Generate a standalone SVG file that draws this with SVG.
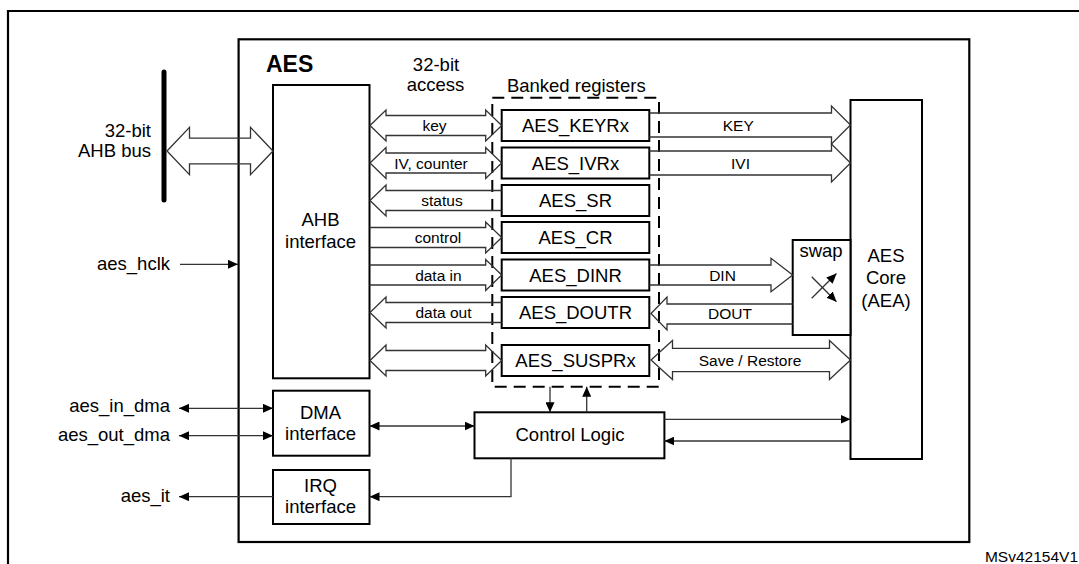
<svg xmlns="http://www.w3.org/2000/svg" width="1079" height="564" viewBox="0 0 1079 564">
<style>
text{font-family:"Liberation Sans",Arial,sans-serif;fill:#000}
.t{font-size:18.5px}
.s{font-size:15.5px}
.m{text-anchor:middle}
.e{text-anchor:end}
.box{fill:#fff;stroke:#000;stroke-width:2}
.frame{fill:none;stroke:#000;stroke-width:2.2}
.ha{fill:none;stroke:#333;stroke-width:1.3;stroke-linejoin:miter}
.ln{fill:none;stroke:#333;stroke-width:1.3}
</style>
<defs>
<marker id="ah" markerUnits="userSpaceOnUse" markerWidth="11" markerHeight="9" refX="10" refY="4.5" orient="auto-start-reverse">
<path d="M0,0 L10,4.5 L0,9 z" fill="#000"/>
</marker>
</defs>

<path class="frame" d="M8,580 V11 H1090"/>
<rect id="aes-block" class="frame" x="238.6" y="39.3" width="730.7" height="502.7" stroke-width="2.5"/>
<text x="266" y="71.7" style="font-size:23px;font-weight:bold">AES</text>

<g id="ahb-bus">
<line x1="164" y1="72" x2="164" y2="200" stroke="#000" stroke-width="5" stroke-linecap="round"/>
<text class="t e" x="151" y="136.7">32-bit</text>
<text class="t e" x="151" y="157.3">AHB bus</text>
</g>

<text class="t m" x="436" y="70.5">32-bit</text>
<text class="t m" x="435.5" y="91">access</text>

<g id="banked">
<rect x="492.3" y="97.7" width="166.7" height="289" fill="none" stroke="#000" stroke-width="2" stroke-dasharray="12,7"/>
<text class="t m" x="576.3" y="91.7">Banked registers</text>
</g>

<g id="ahb-interface">
<rect class="box" x="273" y="85" width="96.5" height="293.3"/>
<text class="t m" x="320.5" y="226">AHB</text>
<text class="t m" x="320.5" y="248.3">interface</text>
</g>

<g id="dma-interface">
<rect class="box" x="273" y="390.7" width="96.5" height="65"/>
<text class="t m" x="320.5" y="419">DMA</text>
<text class="t m" x="320.5" y="440">interface</text>
</g>

<g id="irq-interface">
<rect class="box" x="273" y="470" width="96.5" height="54"/>
<text class="t m" x="320.5" y="491.7">IRQ</text>
<text class="t m" x="320.5" y="512.7">interface</text>
</g>

<g id="reg-keyr"><rect class="box" x="501.7" y="110" width="147.6" height="31"/><text class="t m" x="575.5" y="132">AES_KEYRx</text></g>
<g id="reg-ivr"><rect class="box" x="501.7" y="147.5" width="147.6" height="31"/><text class="t m" x="575.5" y="169.5">AES_IVRx</text></g>
<g id="reg-sr"><rect class="box" x="501.7" y="185" width="147.6" height="31"/><text class="t m" x="575.5" y="207">AES_SR</text></g>
<g id="reg-cr"><rect class="box" x="501.7" y="222" width="147.6" height="31"/><text class="t m" x="575.5" y="244">AES_CR</text></g>
<g id="reg-dinr"><rect class="box" x="501.7" y="259.5" width="147.6" height="31"/><text class="t m" x="575.5" y="281.5">AES_DINR</text></g>
<g id="reg-doutr"><rect class="box" x="501.7" y="297" width="147.6" height="31"/><text class="t m" x="575.5" y="319">AES_DOUTR</text></g>
<g id="reg-suspr"><rect class="box" x="501.7" y="345" width="147.6" height="31"/><text class="t m" x="575.5" y="367">AES_SUSPRx</text></g>

<g id="control-logic">
<rect class="box" x="474.5" y="412.3" width="189.9" height="46"/>
<text class="t m" x="570" y="441">Control Logic</text>
</g>

<g id="aes-core">
<rect class="box" x="850.5" y="100" width="71.5" height="359"/>
<text class="t m" x="886" y="261.7">AES</text>
<text class="t m" x="886" y="284">Core</text>
<text class="t m" x="886" y="306.5">(AEA)</text>
</g>

<g id="swap">
<rect class="box" x="792.7" y="240" width="57.8" height="95"/>
<text class="t m" x="821" y="256.5">swap</text>
<line class="ln" x1="811.7" y1="298.3" x2="836.5" y2="273.5" marker-end="url(#ah)"/>
<line class="ln" x1="811.7" y1="276.7" x2="836.5" y2="301.7" marker-end="url(#ah)"/>
</g>

<g id="connectors">
<path class="ha" d="M167,151 L189.5,127.3 L189.5,138.2 L250.5,138.2 L250.5,127.3 L273,151 L250.5,174.7 L250.5,163.8 L189.5,163.8 L189.5,174.7 Z"/>
<path class="ha" d="M370,125.5 L386,110 L386,115.5 L485.7,115.5 L485.7,110 L501.7,125.5 L485.7,141 L485.7,135.5 L386,135.5 L386,141 Z"/>
<path class="ha" d="M370,163 L386,147.5 L386,153 L485.7,153 L485.7,147.5 L501.7,163 L485.7,178.5 L485.7,173 L386,173 L386,178.5 Z"/>
<path class="ha" d="M501.7,190.5 L386,190.5 L386,185 L370,200.5 L386,216 L386,210.5 L501.7,210.5"/>
<path class="ha" d="M369.5,227.5 L485.7,227.5 L485.7,222 L501.7,237.5 L485.7,253 L485.7,247.5 L369.5,247.5"/>
<path class="ha" d="M369.5,265 L485.7,265 L485.7,259.5 L501.7,275 L485.7,290.5 L485.7,285 L369.5,285"/>
<path class="ha" d="M501.7,302.5 L386,302.5 L386,297 L370,312.5 L386,328 L386,322.5 L501.7,322.5"/>
<path class="ha" d="M370,360.5 L386,345 L386,350.5 L485.7,350.5 L485.7,345 L501.7,360.5 L485.7,376 L485.7,370.5 L386,370.5 L386,376 Z"/>
<path class="ha" d="M649.3,113 L831.5,113 L831.5,106 L850.5,125 L831.5,144 L831.5,137 L649.3,137"/>
<path class="ha" d="M649.3,151 L831.5,151 L831.5,144 L850.5,163 L831.5,182 L831.5,175 L649.3,175"/>
<path class="ha" d="M649.3,265 L771,265 L771,258.3 L792.7,275 L771,291.7 L771,285 L649.3,285"/>
<path class="ha" d="M792.7,304 L667,304 L667,297 L651,313.5 L667,330 L667,324 L792.7,324"/>
<path class="ha" d="M651,360 L672.5,340.5 L672.5,348.3 L829.5,348.3 L829.5,340.5 L850.5,360 L829.5,379.5 L829.5,371.7 L672.5,371.7 L672.5,379.5 Z"/>
<line class="ln" x1="180" y1="264.3" x2="238" y2="264.3" marker-end="url(#ah)"/>
<line class="ln" x1="179" y1="408.3" x2="273" y2="408.3" marker-start="url(#ah)" marker-end="url(#ah)"/>
<line class="ln" x1="179" y1="435.7" x2="273" y2="435.7" marker-start="url(#ah)" marker-end="url(#ah)"/>
<line class="ln" x1="273" y1="496.7" x2="179" y2="496.7" marker-end="url(#ah)"/>
<line class="ln" x1="369.5" y1="426" x2="474.5" y2="426" marker-start="url(#ah)" marker-end="url(#ah)"/>
<path class="ln" d="M511,458.3 V496.7 H369.5" marker-end="url(#ah)"/>
<line class="ln" x1="550" y1="386.7" x2="550" y2="412.3" marker-end="url(#ah)"/>
<line class="ln" x1="586.7" y1="412.3" x2="586.7" y2="386.7" marker-end="url(#ah)"/>
<line class="ln" x1="664.4" y1="419.3" x2="850.5" y2="419.3" marker-end="url(#ah)"/>
<line class="ln" x1="850.5" y1="441" x2="664.4" y2="441" marker-end="url(#ah)"/>
</g>

<g id="labels">
<text class="s m" x="434.5" y="131">key</text>
<text class="s m" x="431" y="168.5">IV, counter</text>
<text class="s m" x="442" y="206">status</text>
<text class="s m" x="438" y="243">control</text>
<text class="s m" x="438.4" y="280.5">data in</text>
<text class="s m" x="443.5" y="318">data out</text>
<text class="s m" x="738.3" y="130.5">KEY</text>
<text class="s m" x="740.5" y="168.5">IVI</text>
<text class="s m" x="722.5" y="280.5">DIN</text>
<text class="s m" x="730" y="319">DOUT</text>
<text class="s m" x="750" y="365.5">Save / Restore</text>
<text class="t e" x="170" y="270">aes_hclk</text>
<text class="t e" x="170" y="411.7">aes_in_dma</text>
<text class="t e" x="170" y="441">aes_out_dma</text>
<text class="t e" x="170" y="501.7">aes_it</text>
<text class="s e" x="1078" y="561.5">MSv42154V1</text>
</g>
</svg>
